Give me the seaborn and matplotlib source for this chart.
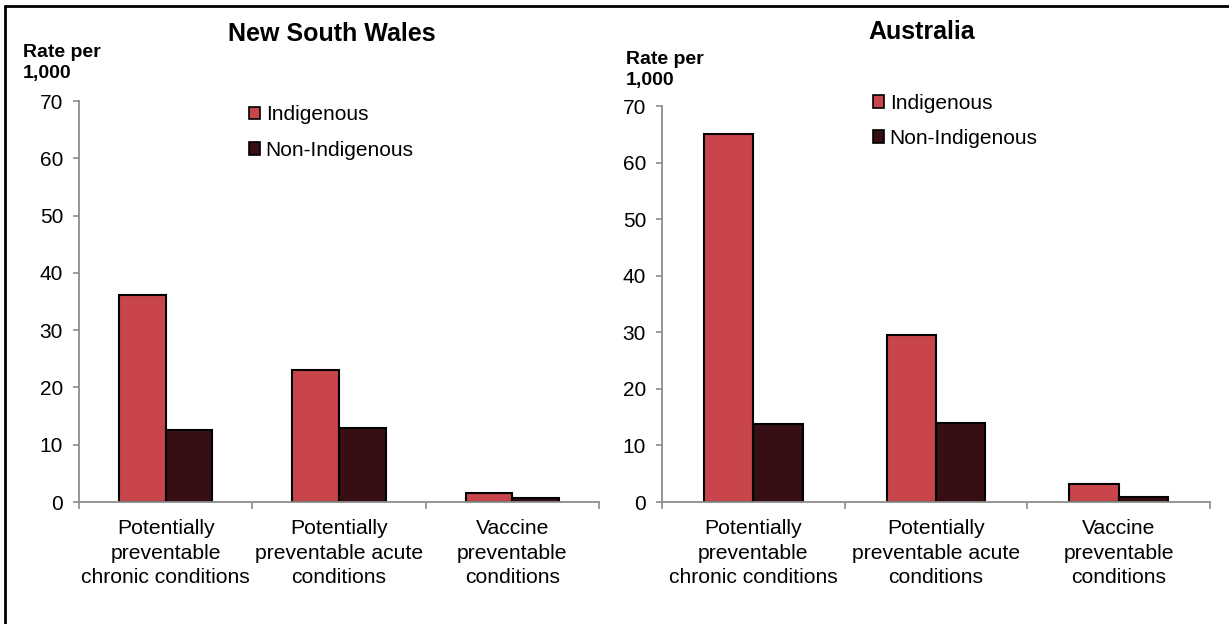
import matplotlib
matplotlib.use("Agg")
import matplotlib.pyplot as plt
import seaborn as sns
import pandas as pd
from matplotlib.lines import Line2D

categories = ["Potentially\npreventable\nchronic conditions",
              "Potentially\npreventable acute\nconditions",
              "Vaccine\npreventable\nconditions"]
groups = ["Indigenous", "Non-Indigenous"]
nsw_indigenous = [36.1, 23.0, 1.6]
nsw_non_indigenous = [12.6, 12.9, 0.7]
aus_indigenous = [65.0, 29.5, 3.2]
aus_non_indigenous = [13.8, 13.9, 0.8]
yticks = [0, 10, 20, 30, 40, 50, 60, 70]

sns.set_theme(style="white")
plt.rcParams["font.family"] = ["Liberation Sans", "DejaVu Sans"]
plt.rcParams["text.color"] = "black"
plt.rcParams["xtick.labelcolor"] = "black"
plt.rcParams["ytick.labelcolor"] = "black"

colors = {"Indigenous": "#C8464B", "Non-Indigenous": "#360E13"}

def make_df(ind, non):
    return pd.DataFrame({
        "category": categories * 2,
        "group": [groups[0]] * 3 + [groups[1]] * 3,
        "value": list(ind) + list(non),
    })

fig = plt.figure(figsize=(12.29, 6.24), dpi=100)
ax1 = fig.add_axes([0.0643, 0.1955, 0.4231, 0.6426])
ax2 = fig.add_axes([0.5387, 0.1955, 0.4459, 0.6346])

panels = [
    (ax1, make_df(nsw_indigenous, nsw_non_indigenous), "New South Wales", 0.270, 0.945,
     (0.0187, 0.930), (249 / 1229, 0.831)),
    (ax2, make_df(aus_indigenous, aus_non_indigenous), "Australia", 0.750, 0.949,
     (0.509, 0.918), (873 / 1229, 0.850)),
]

for ax, df, title, tx, ty, ylab_pos, leg_pos in panels:
    sns.barplot(data=df, x="category", y="value", hue="group", hue_order=groups,
                palette=colors, width=0.54, edgecolor="black", linewidth=1.5,
                saturation=1, ax=ax, errorbar=None)
    ax.set_ylim(0, 70)
    ax.set_xlim(-0.5, 2.5)
    ax.set_yticks(yticks)
    ax.set_xlabel("")
    ax.set_ylabel("")
    for s in ["top", "right"]:
        ax.spines[s].set_visible(False)
    for s in ["left", "bottom"]:
        ax.spines[s].set_color("#8C8C8C")
        ax.spines[s].set_linewidth(1.3)
    ax.tick_params(axis="y", which="major", length=4.5, width=1.2, color="#8C8C8C",
                   labelsize=15, pad=7, left=True, labelcolor="black")
    ax.set_xticks([0, 1, 2])
    ax.set_xticklabels(categories, fontsize=15.2, linespacing=1.37)
    ax.tick_params(axis="x", which="major", length=0, pad=12.5, labelcolor="black")
    ax.set_xticks([-0.5, 0.5, 1.5, 2.5], minor=True)
    ax.tick_params(axis="x", which="minor", length=5, width=1.2, color="#8C8C8C",
                   bottom=True)
    leg = ax.legend(loc="upper left", bbox_to_anchor=leg_pos,
                    bbox_transform=fig.transFigure, frameon=False, fontsize=15,
                    handlelength=0.55, handleheight=0.55, handletextpad=0.25,
                    labelspacing=0.78, borderaxespad=0, borderpad=0)
    for h in leg.legend_handles:
        h.set_edgecolor("black")
        h.set_linewidth(1.2)
    for t in leg.get_texts():
        t.set_color("black")
    fig.text(tx, ty, title, fontsize=18, fontweight="bold", ha="center", va="center")
    fig.text(ylab_pos[0], ylab_pos[1], "Rate per\n1,000", fontsize=14,
             fontweight="bold", ha="left", va="top", linespacing=1.3)

fig.add_artist(Line2D([5 / 1229, 5 / 1229], [0, 1 - 6 / 624], color="black",
                      linewidth=2, transform=fig.transFigure))
fig.add_artist(Line2D([5 / 1229, 1], [1 - 6 / 624, 1 - 6 / 624], color="black",
                      linewidth=2, transform=fig.transFigure))

fig.savefig("out.png", dpi=100)
